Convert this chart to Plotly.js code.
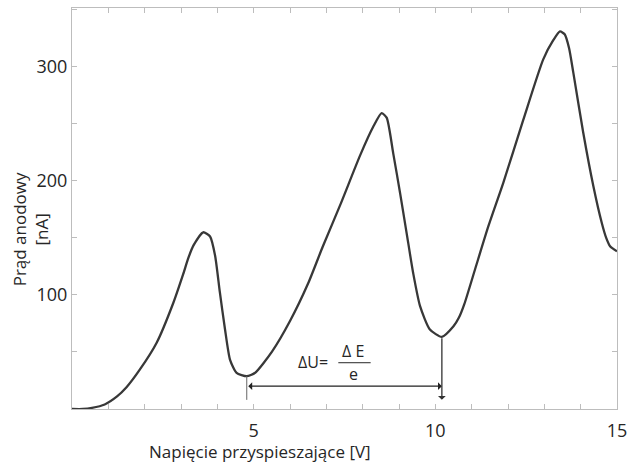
<!DOCTYPE html>
<html>
<head>
<meta charset="utf-8">
<script src="https://cdn.plot.ly/plotly-3.0.1.min.js"></script>
<style>html,body{margin:0;padding:0;background:#fff;}#chart{width:631px;height:465px;}</style>
</head>
<body>
<div id="chart"></div>
<script>
// Napięcie przyspieszające [V]
const voltage = [0, 0.3, 0.55, 0.9, 1.24, 1.5, 1.87, 2.33, 2.79, 3.06, 3.2, 3.34, 3.61, 3.8, 3.94, 4.07, 4.21, 4.35, 4.53, 4.81, 5.04, 5.5, 6.0, 6.5, 6.9, 7.4, 7.93, 8.29, 8.52, 8.66, 8.84, 9.03, 9.21, 9.39, 9.58, 9.85, 10.18, 10.5, 10.65, 10.8, 11.1, 11.46, 11.87, 12.42, 12.97, 13.25, 13.43, 13.56, 13.68, 13.8, 14.07, 14.35, 14.58, 14.7, 14.81, 15];
// Prąd anodowy [nA]
const current = [0, 0, 1, 4, 11, 19, 34.6, 58, 93, 118, 132, 143, 154.7, 151, 134, 102, 70, 43, 31.7, 28.7, 31.7, 50, 77, 110, 142, 180, 222, 247, 259, 255, 224, 189, 154, 119, 90, 69.6, 63.2, 72.4, 80, 92, 123, 160, 198, 253, 306, 323, 330.5, 328, 316, 294, 242, 195, 163, 150, 142.5, 138];
const xTickVals = [5, 10, 15];
const yTickVals = [100, 200, 300];
const xTitle = 'Napięcie przyspieszające [V]';
const yTitle = 'Prąd anodowy<br>[nA]';

// local minima of the curve
const minima = [];
for (let i = 1; i < current.length - 1; i++) {
  if (current[i] < current[i - 1] && current[i] < current[i + 1]) minima.push(i);
}
const m1 = {x: voltage[minima[0]], y: current[minima[0]]};
const m2 = {x: voltage[minima[1]], y: current[minima[1]]};

const FONT = 'Open Sans, Liberation Sans, sans-serif';
const axisCol = '#bdbdbd';
const txtCol = '#262626';

const trace = {
  x: voltage, y: current, type: 'scatter', mode: 'lines',
  line: {color: '#383838', width: 2.3, shape: 'spline', smoothing: 0.6},
  hoverinfo: 'skip'
};

const layout = {
  width: 631, height: 465,
  margin: {l: 72, r: 14, t: 8, b: 56},
  paper_bgcolor: '#fff', plot_bgcolor: '#fff',
  showlegend: false,
  font: {family: FONT, size: 17, color: txtCol},
  xaxis: {
    range: [0, 15], showgrid: false, zeroline: false,
    showline: true, linecolor: axisCol, linewidth: 1, mirror: 'ticks',
    ticks: 'inside', ticklen: 5, tickcolor: axisCol,
    tickmode: 'array', tickvals: xTickVals, ticktext: xTickVals.map(String),
    ticklabelstandoff: 5,
    minor: {dtick: 1, ticks: 'inside', ticklen: 5, tickcolor: axisCol, showgrid: false},
    tickfont: {family: FONT, size: 18, color: txtCol}
  },
  yaxis: {
    range: [0, 351], showgrid: false, zeroline: false,
    showline: true, linecolor: axisCol, linewidth: 1, mirror: 'ticks',
    ticks: 'inside', ticklen: 5, tickcolor: axisCol,
    tickmode: 'array', tickvals: yTickVals, ticktext: yTickVals.map(String),
    minor: {dtick: 50, ticks: 'inside', ticklen: 5, tickcolor: axisCol, showgrid: false},
    tickfont: {family: FONT, size: 18, color: txtCol}
  },
  shapes: [
    {type: 'line', xref: 'x', yref: 'y', x0: m1.x, x1: m1.x, y0: m1.y, y1: 8,
     line: {color: '#666', width: 1}},
    {type: 'line', xref: 'x', yref: 'y', x0: 7.33, x1: 8.22, y0: 40.5, y1: 40.5,
     line: {color: txtCol, width: 1}}
  ],
  annotations: [
    {x: 0.345, y: -0.105, xref: 'paper', yref: 'paper', text: xTitle,
     showarrow: false, xanchor: 'center', yanchor: 'middle', font: {family: FONT, size: 17, color: txtCol}},
    {x: -0.076, y: 0.447, xref: 'paper', yref: 'paper', text: yTitle, textangle: -90,
     showarrow: false, xanchor: 'center', yanchor: 'middle', font: {family: FONT, size: 17, color: txtCol}},
    // horizontal double arrow
    {x: m2.x, y: 20, ax: m1.x, ay: 20, xref: 'x', yref: 'y', axref: 'x', ayref: 'y', text: '',
     showarrow: true, arrowside: 'end+start', arrowhead: 1, arrowsize: 1, arrowwidth: 1.3, arrowcolor: '#222'},
    // vertical arrow from second minimum
    {x: m2.x, y: 8, ax: m2.x, ay: m2.y, xref: 'x', yref: 'y', axref: 'x', ayref: 'y', text: '',
     showarrow: true, arrowhead: 1, arrowsize: 1, arrowwidth: 1.3, arrowcolor: '#333'},
    {x: 6.62, y: 41, xref: 'x', yref: 'y', text: 'ΔU=', showarrow: false,
     xanchor: 'center', yanchor: 'middle', font: {family: FONT, size: 16, color: txtCol}},
    {x: 7.74, y: 51, xref: 'x', yref: 'y', text: 'Δ E', showarrow: false,
     xanchor: 'center', yanchor: 'middle', font: {family: FONT, size: 16, color: txtCol}},
    {x: 7.74, y: 31, xref: 'x', yref: 'y', text: 'e', showarrow: false,
     xanchor: 'center', yanchor: 'middle', font: {family: FONT, size: 16, color: txtCol}}
  ]
};

Plotly.newPlot('chart', [trace], layout, {staticPlot: true, displayModeBar: false});
</script>
</body>
</html>
